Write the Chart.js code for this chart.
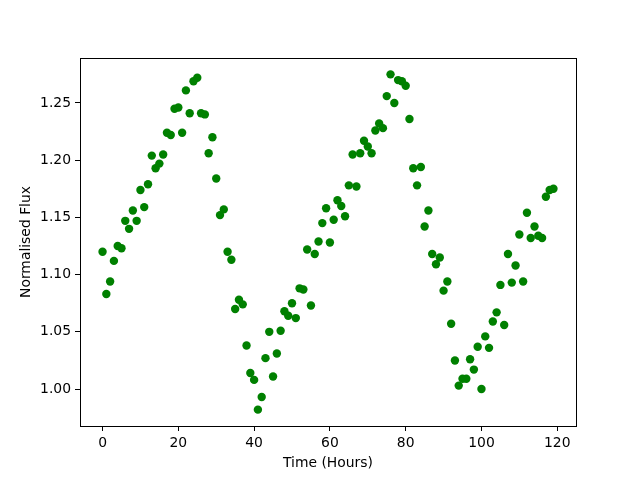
<!DOCTYPE html>
<html>
<head>
<meta charset="utf-8">
<script src="https://cdn.jsdelivr.net/npm/chart.js@4/dist/chart.umd.min.js"></script>
<style>html,body{margin:0;padding:0;background:#fff;}canvas{display:block;}</style>
</head>
<body>
<canvas id="c" width="640" height="480"></canvas>
<script>
const hours = Array.from({length:120}, (_, i) => i);
const flux = [
1.120,1.083,1.094,1.112,1.125,1.123,1.147,1.140,1.156,1.147,
1.174,1.159,1.179,1.204,1.193,1.197,1.205,1.224,1.222,1.245,
1.246,1.224,1.261,1.241,1.269,1.272,1.241,1.240,1.206,1.220,
1.184,1.152,1.157,1.120,1.113,1.070,1.078,1.074,1.038,1.014,
1.008,0.982,0.993,1.027,1.050,1.011,1.031,1.051,1.068,1.064,
1.075,1.062,1.088,1.087,1.122,1.073,1.118,1.129,1.145,1.158,
1.128,1.148,1.165,1.160,1.151,1.178,1.205,1.177,1.206,1.217,
1.212,1.206,1.226,1.232,1.228,1.256,1.275,1.250,1.270,1.269,
1.265,1.236,1.193,1.178,1.194,1.142,1.156,1.118,1.109,1.115,
1.086,1.094,1.057,1.025,1.003,1.009,1.009,1.026,1.017,1.037,
1.000,1.046,1.036,1.059,1.067,1.091,1.056,1.118,1.093,1.108,
1.135,1.094,1.154,1.132,1.142,1.134,1.132,1.168,1.174,1.175
];
const xTicks = [0,20,40,60,80,100,120];
const yTicks = [1.00,1.05,1.10,1.15,1.20,1.25];

const font = {family:'"DejaVu Sans", sans-serif', size:13.9};
const frame = {
  id:'frame',
  afterDatasetsDraw(chart){
    const {ctx, chartArea:a} = chart;
    ctx.save();
    ctx.strokeStyle='#000'; ctx.lineWidth=1;
    ctx.strokeRect(Math.round(a.left)+0.5, Math.round(a.top)+0.5, Math.round(a.right-a.left), Math.round(a.bottom-a.top));
    ctx.restore();
  }
};
new Chart(document.getElementById('c'), {
  type:'scatter',
  data:{datasets:[{
    data: hours.map((h,i)=>({x:h,y:flux[i]})),
    backgroundColor:'#008000', borderColor:'#008000',
    pointRadius:4.2, pointHoverRadius:4.2, borderWidth:0
  }]},
  options:{
    responsive:false, animation:false,
    layout:{padding:{top:58,right:64,left:0,bottom:0}},
    plugins:{legend:{display:false},tooltip:{enabled:false}},
    scales:{
      x:{type:'linear', min:-5.95, max:124.95,
        afterBuildTicks(s){s.ticks = xTicks.map(v=>({value:v}));},
        afterFit(s){s.height=54;},
        ticks:{color:'#000', font, padding:4, maxRotation:0, autoSkip:false},
        grid:{drawOnChartArea:false, drawTicks:true, tickLength:5, tickColor:'#000'},
        border:{display:false},
        title:{display:true, text:'Time (Hours)', color:'#000', font, padding:{top:0,bottom:8.6}}
      },
      y:{type:'linear', min:0.9677, max:1.2893,
        afterBuildTicks(s){s.ticks = yTicks.map(v=>({value:v}));},
        afterFit(s){s.width=80;},
        ticks:{color:'#000', font, padding:4, autoSkip:false, callback:v=>Number(v).toFixed(2)},
        grid:{drawOnChartArea:false, drawTicks:true, tickLength:5, tickColor:'#000'},
        border:{display:false},
        title:{display:true, text:'Normalised Flux', color:'#000', font, padding:{top:18,bottom:0}}
      }
    }
  },
  plugins:[frame]
});
</script>
</body>
</html>
